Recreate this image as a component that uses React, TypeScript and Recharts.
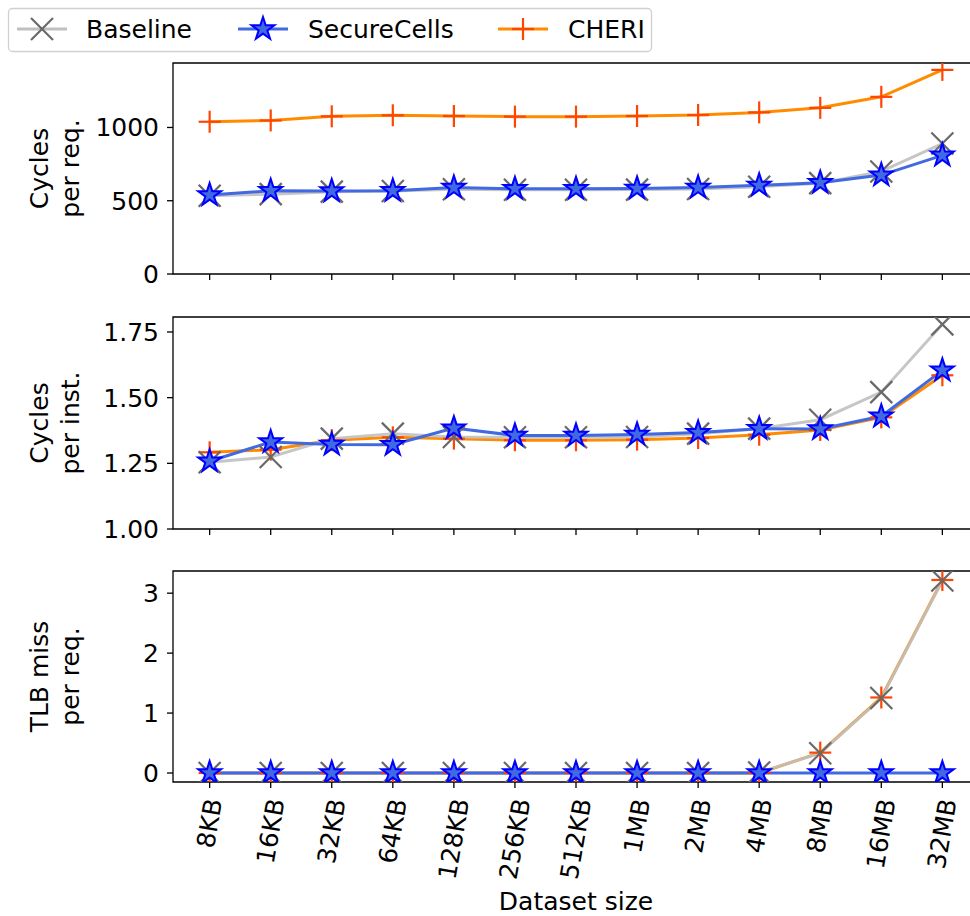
import React from 'react';
import { LineChart, Line, XAxis, YAxis, ReferenceArea } from 'recharts';

// dataset sizes on the shared x axis
const sizes = ['8KB', '16KB', '32KB', '64KB', '128KB', '256KB', '512KB', '1MB', '2MB', '4MB', '8MB', '16MB', '32MB'];

// panel 1: cycles per request
const baselineCyclesReq = [534, 545, 562, 566, 578, 575, 575, 576, 580, 596, 620, 700, 890];
const secureCyclesReq = [539, 568, 566, 568, 590, 582, 582, 584, 590, 605, 623, 675, 810];
const cheriCyclesReq = [1039, 1048, 1076, 1083, 1078, 1074, 1074, 1078, 1085, 1103, 1134, 1209, 1393];

// panel 2: cycles per instruction
const baselineCpi = [1.254, 1.274, 1.344, 1.363, 1.35, 1.349, 1.349, 1.35, 1.363, 1.382, 1.416, 1.521, 1.779];
const secureCpi = [1.258, 1.331, 1.322, 1.321, 1.384, 1.356, 1.356, 1.36, 1.367, 1.382, 1.381, 1.429, 1.604];
const cheriCpi = [1.292, 1.302, 1.338, 1.349, 1.344, 1.338, 1.338, 1.34, 1.346, 1.359, 1.377, 1.425, 1.585];

// panel 3: TLB misses per request
const baselineTlb = [0, 0, 0, 0, 0, 0, 0, 0, 0, 0.01, 0.33, 1.25, 3.21];
const secureTlb = [0, 0, 0, 0, 0, 0, 0, 0, 0, 0, 0, 0, 0];
const cheriTlb = [0, 0, 0, 0, 0, 0, 0, 0, 0, 0, 0.34, 1.26, 3.22];

const seriesNames = ['Baseline', 'SecureCells', 'CHERI'];

const cyclesReqTicks = [0, 500, 1000];
const cpiTicks = [1, 1.25, 1.5, 1.75];
const tlbTicks = [0, 1, 2, 3];

const FONT = '"DejaVu Sans", sans-serif';
const PLOT_LEFT = 173;
const PLOT_W = 806;
const PAD_TOP = 16;
const X_DOMAIN: [number, number] = [-0.6, 12.6];
const X_TICKS = sizes.map((_, i) => i);

const GRAY_LINE = '#c0c0c0';
const GRAY_MARK = '#696969';
const BLUE_LINE = '#4169e1';
const BLUE_EDGE = '#0000ff';
const ORANGE_LINE = '#ff8c00';
const ORANGE_MARK = '#ff4500';

const build = (b: number[], s: number[], c: number[]) =>
  sizes.map((size, i) => ({ i, size, baseline: b[i], secure: s[i], cheri: c[i] }));

const XMark = ({ cx, cy }: { cx: number; cy: number }) => (
  <g stroke={GRAY_MARK} strokeWidth={2.2}>
    <line x1={cx - 11} y1={cy - 11} x2={cx + 11} y2={cy + 11} />
    <line x1={cx - 11} y1={cy + 11} x2={cx + 11} y2={cy - 11} />
  </g>
);

const PlusMark = ({ cx, cy }: { cx: number; cy: number }) => (
  <g stroke={ORANGE_MARK} strokeWidth={2.2}>
    <line x1={cx - 11} y1={cy} x2={cx + 11} y2={cy} />
    <line x1={cx} y1={cy - 11} x2={cx} y2={cy + 11} />
  </g>
);

const StarMark = ({ cx, cy }: { cx: number; cy: number }) => {
  const R = 12;
  const r = R * 0.382;
  const pts: string[] = [];
  for (let k = 0; k < 10; k++) {
    const a = -Math.PI / 2 + (k * Math.PI) / 5;
    const rad = k % 2 === 0 ? R : r;
    pts.push(`${cx + rad * Math.cos(a)},${cy + rad * Math.sin(a)}`);
  }
  return <polygon points={pts.join(' ')} fill={BLUE_LINE} stroke={BLUE_EDGE} strokeWidth={2} strokeLinejoin="miter" />;
};

const xDot = (p: any) => (p.cx == null ? <g key={`x${p.index}`} /> : <XMark key={`x${p.index}`} cx={p.cx} cy={p.cy} />);
const plusDot = (p: any) => (p.cx == null ? <g key={`p${p.index}`} /> : <PlusMark key={`p${p.index}`} cx={p.cx} cy={p.cy} />);
const starDot = (p: any) => (p.cx == null ? <g key={`s${p.index}`} /> : <StarMark key={`s${p.index}`} cx={p.cx} cy={p.cy} />);

const glyphW: Record<string, number> = {
  '0': 0.636, '1': 0.636, '2': 0.636, '3': 0.636, '4': 0.636, '5': 0.636, '6': 0.636, '8': 0.636,
  K: 0.656, B: 0.686, M: 0.863,
};

const SizeTick = (props: any) => {
  const { x, y, payload } = props;
  const label = sizes[payload.value];
  if (!label) return <g />;
  const len = label.split('').reduce((s: number, c: string) => s + (glyphW[c] ?? 0.62), 0) * 25;
  const cy = y + 9 + 0.4924 * len;
  return (
    <text
      x={x}
      y={cy}
      transform={`rotate(-80, ${x}, ${cy})`}
      textAnchor="middle"
      dominantBaseline="central"
      fontSize={25}
      fontFamily={FONT}
      fill="#000"
    >
      {label}
    </text>
  );
};

const NoTick = () => <g />;

interface PanelProps {
  data: ReturnType<typeof build>;
  domain: [number, number];
  ticks: number[];
  fmt: (v: number) => string;
  top: number;
  height: number;
  labels?: boolean;
}

const Panel = ({ data, domain, ticks, fmt, top, height, labels }: PanelProps) => {
  const bottomH = labels ? 125 : 24;
  return (
    <div style={{ position: 'absolute', left: 0, top: top - PAD_TOP }}>
      <LineChart
        width={PLOT_LEFT + PLOT_W}
        height={PAD_TOP + height + bottomH}
        data={data}
        margin={{ top: PAD_TOP, right: 0, bottom: 0, left: 0 }}
      >
        <XAxis
          type="number"
          dataKey="i"
          domain={X_DOMAIN}
          ticks={X_TICKS}
          interval={0}
          allowDataOverflow
          height={bottomH}
          axisLine={false}
          tickLine={{ stroke: '#000', strokeWidth: 1.3 }}
          tickSize={6}
          tickMargin={2}
          tick={labels ? SizeTick : NoTick}
        />
        <YAxis
          type="number"
          domain={domain}
          ticks={ticks}
          interval={0}
          allowDataOverflow
          width={PLOT_LEFT}
          axisLine={false}
          tickLine={{ stroke: '#000', strokeWidth: 1.3 }}
          tickSize={6}
          tickMargin={8}
          tickFormatter={fmt}
          tick={{ fill: '#000', fontSize: 25, fontFamily: FONT }}
        />
        <ReferenceArea
          x1={X_DOMAIN[0]}
          x2={X_DOMAIN[1]}
          y1={domain[0]}
          y2={domain[1]}
          fill="none"
          stroke="#000"
          strokeWidth={1.3}
          ifOverflow="visible"
        />
        <Line
          dataKey="cheri"
          name={seriesNames[2]}
          stroke={ORANGE_LINE}
          strokeWidth={3}
          dot={plusDot}
          activeDot={false}
          isAnimationActive={false}
        />
        <Line
          dataKey="baseline"
          name={seriesNames[0]}
          stroke={GRAY_LINE}
          strokeOpacity={0.9}
          strokeWidth={3}
          dot={xDot}
          activeDot={false}
          isAnimationActive={false}
        />
        <Line
          dataKey="secure"
          name={seriesNames[1]}
          stroke={BLUE_LINE}
          strokeWidth={3}
          dot={starDot}
          activeDot={false}
          isAnimationActive={false}
        />
      </LineChart>
    </div>
  );
};

const YLabel = ({ lines, cy }: { lines: string[]; cy: number }) => (
  <>
    {lines.map((t, k) => {
      const x = 48 + k * 31;
      return (
        <text key={t} x={x} y={cy} transform={`rotate(-90, ${x}, ${cy})`} textAnchor="middle" fontSize={25} fontFamily={FONT} fill="#000">
          {t}
        </text>
      );
    })}
  </>
);

const Legend = () => {
  const items = [
    { name: seriesNames[0], cx: 42, color: GRAY_LINE, mark: XMark, tx: 86 },
    { name: seriesNames[1], cx: 263, color: BLUE_LINE, mark: StarMark, tx: 308 },
    { name: seriesNames[2], cx: 523, color: ORANGE_LINE, mark: PlusMark, tx: 568 },
  ];
  return (
    <>
      <rect x={8.5} y={8.5} width={643} height={43} rx={4} fill="#fff" stroke="#d0d0d0" strokeWidth={1.3} />
      {items.map((it) => {
        const M = it.mark;
        return (
          <g key={it.name}>
            <line x1={it.cx - 25} y1={29} x2={it.cx + 25} y2={29} stroke={it.color} strokeWidth={3} />
            <M cx={it.cx} cy={29} />
            <text x={it.tx} y={38} fontSize={25} fontFamily={FONT} fill="#000">
              {it.name}
            </text>
          </g>
        );
      })}
    </>
  );
};

export default function App() {
  return (
    <div style={{ position: 'absolute', left: 0, top: 0, width: 970, height: 916, overflow: 'hidden', background: '#fff' }}>
      <Panel
        data={build(baselineCyclesReq, secureCyclesReq, cheriCyclesReq)}
        domain={[0, 1440]}
        ticks={cyclesReqTicks}
        fmt={(v) => String(v)}
        top={63}
        height={211}
      />
      <Panel
        data={build(baselineCpi, secureCpi, cheriCpi)}
        domain={[1.0, 1.807]}
        ticks={cpiTicks}
        fmt={(v) => v.toFixed(2)}
        top={317}
        height={212}
      />
      <Panel
        data={build(baselineTlb, secureTlb, cheriTlb)}
        domain={[-0.15, 3.37]}
        ticks={tlbTicks}
        fmt={(v) => String(v)}
        top={571}
        height={211}
        labels
      />
      <svg width={970} height={916} style={{ position: 'absolute', left: 0, top: 0, pointerEvents: 'none' }}>
        <Legend />
        <YLabel lines={['Cycles', 'per req.']} cy={168.5} />
        <YLabel lines={['Cycles', 'per inst.']} cy={423} />
        <YLabel lines={['TLB miss', 'per req.']} cy={676.5} />
        <text x={576} y={910} textAnchor="middle" fontSize={25} fontFamily={FONT} fill="#000">
          Dataset size
        </text>
      </svg>
    </div>
  );
}
